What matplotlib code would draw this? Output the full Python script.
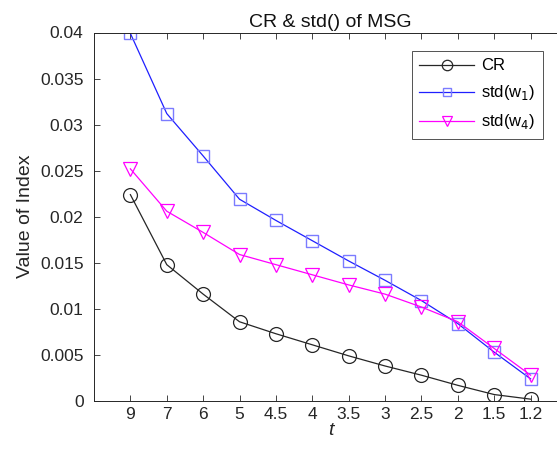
import matplotlib.pyplot as plt
import numpy as np

plt.rcParams['font.family'] = ['Liberation Sans', 'DejaVu Sans']

t_labels = ['9', '7', '6', '5', '4.5', '4', '3.5', '3', '2.5', '2', '1.5', '1.2']
cr = [0.0224, 0.0148, 0.0116, 0.0086, 0.0073, 0.0061, 0.0049, 0.0038, 0.0028, 0.0017, 0.0007, 0.0002]
std_w1 = [0.0399, 0.0312, 0.0266, 0.0219, 0.0196, 0.0174, 0.0152, 0.0131, 0.0109, 0.0084, 0.0053, 0.0024]
std_w4 = [0.0252, 0.0206, 0.0183, 0.0159, 0.0148, 0.0137, 0.0126, 0.0116, 0.0102, 0.0086, 0.0057, 0.0028]

x = np.arange(1, len(t_labels) + 1)

fig = plt.figure(figsize=(5.57, 4.55), dpi=100)
# right edge of the axes runs past the figure, like the cropped original
ax = fig.add_axes([94 / 557, 1 - 401 / 455, 473 / 557, 368.5 / 455])

ax.plot(x, cr, color='#262626', lw=0.9, marker='o', ms=10, mfc='none',
        mec='#262626', mew=0.9, label='CR')
ax.plot(x, std_w1, color='#1f1fff', lw=0.9, marker='s', ms=8, mfc='none',
        mec='#7b7bff', mew=1.0, label='std(w$_1$)')
ax.plot(x, std_w4, color='#ff00ff', lw=0.9, marker='v', ms=10, mfc='none',
        mec='#ff00ff', mew=0.9, label='std(w$_4$)')

ax.set_xlim(0, 13)
ax.set_ylim(0, 0.04)
ax.set_xticks(x)
ax.set_xticklabels(t_labels)
ax.set_yticks(np.arange(0, 0.0401, 0.005))
ax.set_yticklabels(['0', '0.005', '0.01', '0.015', '0.02', '0.025', '0.03', '0.035', '0.04'])

ax.tick_params(direction='in', top=True, right=True, length=4, width=0.6,
               colors='#262626', labelsize=12.5)
ax.tick_params(axis='y', pad=7.5)
ax.tick_params(axis='x', pad=4)
for s in ax.spines.values():
    s.set_color('#262626')
    s.set_linewidth(0.7)

ax.set_title('CR & std() of MSG', fontsize=14, color='#111111', pad=4)
ax.set_ylabel('Value of Index', fontsize=14, color='#262626', labelpad=4)
ax.set_xlabel('t', fontsize=14, style='italic', color='#262626', labelpad=0)

leg = ax.legend(loc='upper left', bbox_to_anchor=(0.672, 0.95),
                fontsize=12, frameon=True, fancybox=False, borderpad=0.45,
                handlelength=3.3, labelspacing=0.6, handletextpad=0.4,
                borderaxespad=0, markerscale=0.75)
leg.get_frame().set_edgecolor('#262626')
leg.get_frame().set_linewidth(0.7)

fig.savefig('out.png', dpi=100)
